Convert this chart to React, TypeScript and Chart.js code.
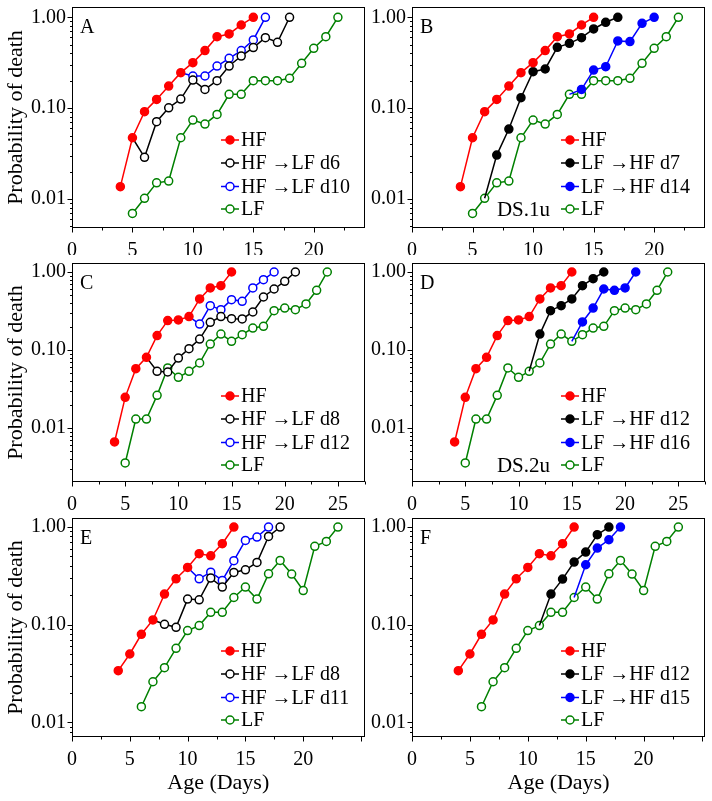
import React, { useEffect, useRef } from 'react';
import { Chart, registerables } from 'chart.js';

Chart.register(...registerables);

const SERIF = "'Liberation Serif', 'Times New Roman', Times, serif";
const RED = '#ff0000';
const BLACK = '#000000';
const BLUE = '#0000ff';
const GREEN = '#008000';

// ---- tick labels ----
const xTicksAB = [0, 5, 10, 15, 20];
const xTicksCD = [0, 5, 10, 15, 20, 25];
const xTicksEF = [0, 5, 10, 15, 20];
const yTicks = [0.01, 0.1, 1];

// ---- Panels A & B (DS.1u) ----
const hfStartAB = 4;
const hfAB = [0.0137, 0.0473, 0.0915, 0.125, 0.175, 0.246, 0.317, 0.43, 0.612, 0.656, 0.823, 1.0];
const lfStartAB = 5;
const lfAB = [0.00695, 0.0102, 0.0151, 0.0158, 0.0473, 0.0741, 0.0669, 0.0855, 0.142, 0.142, 0.201, 0.201, 0.201, 0.213, 0.312, 0.456, 0.612, 1.0];
const aD6Start = 5;
const aD6 = [0.0473, 0.0288, 0.0711, 0.101, 0.126, 0.204, 0.161, 0.201, 0.291, 0.375, 0.464, 0.597, 0.531, 1.0];
const aD10Start = 9;
const aD10 = [0.246, 0.226, 0.226, 0.291, 0.354, 0.43, 0.563, 1.0];
const bD7Start = 6;
const bD7 = [0.0102, 0.0305, 0.059, 0.1305, 0.252, 0.27, 0.468, 0.517, 0.597, 0.744, 0.881, 1.0];
const bD14Start = 13;
const bD14 = [0.142, 0.161, 0.263, 0.286, 0.549, 0.54, 0.859, 1.0];

// ---- Panels C & D (DS.2u) ----
const hfStartCD = 4;
const hfCD = [0.00662, 0.0247, 0.0576, 0.0805, 0.153, 0.238, 0.243, 0.268, 0.451, 0.624, 0.668, 1.0];
const lfStartCD = 5;
const lfCD = [0.00356, 0.013, 0.013, 0.0262, 0.0588, 0.0446, 0.0533, 0.0681, 0.119, 0.16, 0.129, 0.157, 0.191, 0.201, 0.319, 0.345, 0.329, 0.389, 0.582, 1.0];
const cD8Start = 7;
const cD8 = [0.0805, 0.0533, 0.0522, 0.0789, 0.104, 0.138, 0.226, 0.268, 0.252, 0.25, 0.307, 0.478, 0.605, 0.759, 1.0];
const cD12Start = 11;
const cD12 = [0.268, 0.215, 0.37, 0.329, 0.442, 0.421, 0.624, 0.797, 1.0];
const dD12Start = 11;
const dD12 = [0.0533, 0.16, 0.319, 0.37, 0.451, 0.668, 0.821, 1.0];
const dD16Start = 15;
const dD16 = [0.129, 0.229, 0.345, 0.605, 0.582, 0.624, 1.0];

// ---- Panels E & F ----
const hfStartEF = 4;
const hfEF = [0.0339, 0.0502, 0.0799, 0.112, 0.206, 0.295, 0.386, 0.533, 0.508, 0.675, 1.0];
const lfStartEF = 6;
const lfEF = [0.0145, 0.0261, 0.0364, 0.0574, 0.0871, 0.098, 0.134, 0.134, 0.19, 0.243, 0.183, 0.332, 0.455, 0.33, 0.224, 0.634, 0.713, 1.0];
const eD8Start = 7;
const eD8 = [0.112, 0.101, 0.0942, 0.183, 0.18, 0.3, 0.243, 0.343, 0.365, 0.434, 0.802, 1.0];
const eD11Start = 10;
const eD11 = [0.386, 0.295, 0.345, 0.284, 0.452, 0.73, 0.79, 1.0];
const fD12Start = 11;
const fD12 = [0.098, 0.206, 0.293, 0.438, 0.554, 0.834, 1.0];
const fD15Start = 14;
const fD15 = [0.19, 0.411, 0.609, 0.741, 1.0];

type Series = { label: string; start: number; values: number[]; color: string; filled: boolean; hideFirst?: boolean };
type Panel = { letter: string; col: number; row: number; xMax: number; xTicks: number[]; note: string; series: Series[] };

const ARROW = '\u2192';

const panels: Panel[] = [
  {
    letter: 'A', col: 0, row: 0, xMax: 24.2, xTicks: xTicksAB, note: '',
    series: [
      { label: 'HF', start: hfStartAB, values: hfAB, color: RED, filled: true },
      { label: `HF ${ARROW}LF d6`, start: aD6Start, values: aD6, color: BLACK, filled: false, hideFirst: true },
      { label: `HF ${ARROW}LF d10`, start: aD10Start, values: aD10, color: BLUE, filled: false, hideFirst: true },
      { label: 'LF', start: lfStartAB, values: lfAB, color: GREEN, filled: false },
    ],
  },
  {
    letter: 'B', col: 1, row: 0, xMax: 24.2, xTicks: xTicksAB, note: 'DS.1u',
    series: [
      { label: 'HF', start: hfStartAB, values: hfAB, color: RED, filled: true },
      { label: `LF ${ARROW}HF d7`, start: bD7Start, values: bD7, color: BLACK, filled: true, hideFirst: true },
      { label: `LF ${ARROW}HF d14`, start: bD14Start, values: bD14, color: BLUE, filled: true, hideFirst: true },
      { label: 'LF', start: lfStartAB, values: lfAB, color: GREEN, filled: false },
    ],
  },
  {
    letter: 'C', col: 0, row: 1, xMax: 27.5, xTicks: xTicksCD, note: '',
    series: [
      { label: 'HF', start: hfStartCD, values: hfCD, color: RED, filled: true },
      { label: `HF ${ARROW}LF d8`, start: cD8Start, values: cD8, color: BLACK, filled: false, hideFirst: true },
      { label: `HF ${ARROW}LF d12`, start: cD12Start, values: cD12, color: BLUE, filled: false, hideFirst: true },
      { label: 'LF', start: lfStartCD, values: lfCD, color: GREEN, filled: false },
    ],
  },
  {
    letter: 'D', col: 1, row: 1, xMax: 27.5, xTicks: xTicksCD, note: 'DS.2u',
    series: [
      { label: 'HF', start: hfStartCD, values: hfCD, color: RED, filled: true },
      { label: `LF ${ARROW}HF d12`, start: dD12Start, values: dD12, color: BLACK, filled: true, hideFirst: true },
      { label: `LF ${ARROW}HF d16`, start: dD16Start, values: dD16, color: BLUE, filled: true, hideFirst: true },
      { label: 'LF', start: lfStartCD, values: lfCD, color: GREEN, filled: false },
    ],
  },
  {
    letter: 'E', col: 0, row: 2, xMax: 25.3, xTicks: xTicksEF, note: '',
    series: [
      { label: 'HF', start: hfStartEF, values: hfEF, color: RED, filled: true },
      { label: `HF ${ARROW}LF d8`, start: eD8Start, values: eD8, color: BLACK, filled: false, hideFirst: true },
      { label: `HF ${ARROW}LF d11`, start: eD11Start, values: eD11, color: BLUE, filled: false, hideFirst: true },
      { label: 'LF', start: lfStartEF, values: lfEF, color: GREEN, filled: false },
    ],
  },
  {
    letter: 'F', col: 1, row: 2, xMax: 25.3, xTicks: xTicksEF, note: '',
    series: [
      { label: 'HF', start: hfStartEF, values: hfEF, color: RED, filled: true },
      { label: `LF ${ARROW}HF d12`, start: fD12Start, values: fD12, color: BLACK, filled: true, hideFirst: true },
      { label: `LF ${ARROW}HF d15`, start: fD15Start, values: fD15, color: BLUE, filled: true, hideFirst: true },
      { label: 'LF', start: lfStartEF, values: lfEF, color: GREEN, filled: false },
    ],
  },
];

const COLS = [
  { left: 0, width: 370, yWidth: 72, padRight: 5, yTitle: true },
  { left: 370, width: 342, yWidth: 42, padRight: 7, yTitle: false },
];
const ROWS = [
  { top: 0, height: 255, padTop: 7, xHeight: 27, xTitle: false, yMin: 0.00481, yMax: 1.298 },
  { top: 255, height: 255, padTop: 8, xHeight: 28, xTitle: false, yMin: 0.00203, yMax: 1.304 },
  { top: 510, height: 291, padTop: 8, xHeight: 64, xTitle: true, yMin: 0.0071, yMax: 1.237 },
];

const LEGEND_ROWS = [133, 156, 179.5, 202];

function makeDeco(panel: Panel) {
  return {
    id: 'deco' + panel.letter,
    afterDraw(chart: any) {
      const { ctx, chartArea: a, scales } = chart;
      const xs = scales.x;
      const ys = scales.y;
      ctx.save();
      ctx.strokeStyle = '#000';
      ctx.lineWidth = 1;
      const L = Math.round(a.left) + 0.5;
      const T = Math.round(a.top) + 0.5;
      const R = Math.round(a.right) - 0.5;
      const B = Math.round(a.bottom) - 0.5;
      ctx.strokeRect(L, T, R - L, B - T);
      ctx.beginPath();
      for (let e = -3; e <= 0; e++) {
        for (let k = 1; k <= 9; k++) {
          const v = k * Math.pow(10, e);
          if (v < ys.min || v > ys.max) continue;
          const py = Math.round(ys.getPixelForValue(v)) + 0.5;
          const len = k === 1 ? 5 : 2.5;
          ctx.moveTo(L, py);
          ctx.lineTo(L - len, py);
        }
      }
      for (let v = 0; v <= xs.max + 1e-6; v += 2.5) {
        const px = Math.round(xs.getPixelForValue(v)) + 0.5;
        const len = v % 5 === 0 ? 5 : 3;
        ctx.moveTo(px, B);
        ctx.lineTo(px, B + len);
      }
      ctx.stroke();

      // panel letter
      ctx.fillStyle = '#000';
      ctx.font = `20px ${SERIF}`;
      ctx.textAlign = 'left';
      ctx.textBaseline = 'alphabetic';
      ctx.fillText(panel.letter, a.left + 8, a.top + 26);

      // legend
      const mx = a.left + 158;
      panel.series.forEach((s, i) => {
        const yy = a.top + LEGEND_ROWS[i];
        ctx.strokeStyle = s.color;
        ctx.lineWidth = 1.5;
        ctx.beginPath();
        ctx.moveTo(mx - 9, yy);
        ctx.lineTo(mx + 9, yy);
        ctx.stroke();
        ctx.beginPath();
        ctx.arc(mx, yy, 4, 0, Math.PI * 2);
        ctx.fillStyle = s.filled ? s.color : '#ffffff';
        ctx.fill();
        ctx.stroke();
        ctx.fillStyle = '#000';
        ctx.font = `20px ${SERIF}`;
        ctx.textAlign = 'left';
        ctx.textBaseline = 'middle';
        ctx.fillText(s.label, mx + 11, yy + 1);
      });
      if (panel.note) {
        ctx.font = `21px ${SERIF}`;
        ctx.textAlign = 'right';
        ctx.textBaseline = 'middle';
        ctx.fillStyle = '#000';
        ctx.fillText(panel.note, a.left + 138, a.top + LEGEND_ROWS[3] + 1);
      }
      ctx.restore();
    },
  };
}

function PanelChart({ panel }: { panel: Panel }) {
  const ref = useRef<HTMLCanvasElement>(null);
  const col = COLS[panel.col];
  const row = ROWS[panel.row];
  useEffect(() => {
    const canvas = ref.current;
    if (!canvas) return;
    const datasets = panel.series.map((s) => ({
      label: s.label,
      data: s.values.map((v, i) => ({ x: s.start + i, y: v })),
      borderColor: s.color,
      backgroundColor: s.filled ? s.color : '#ffffff',
      pointBackgroundColor: s.filled ? s.color : '#ffffff',
      pointBorderColor: s.color,
      pointBorderWidth: 1.5,
      pointRadius: s.values.map((_, i) => (s.hideFirst && i === 0 ? 0 : 4)),
      pointHoverRadius: 4,
      borderWidth: 1.5,
      showLine: true,
      fill: false,
      tension: 0,
    }));
    const chart = new Chart(canvas, {
      type: 'scatter',
      data: { datasets },
      options: {
        responsive: false,
        animation: false,
        devicePixelRatio: 1,
        events: [],
        layout: { padding: { top: row.padTop, right: col.padRight, left: 0, bottom: 0 } },
        plugins: { legend: { display: false }, tooltip: { enabled: false } },
        scales: {
          x: {
            type: 'linear',
            min: 0,
            max: panel.xMax,
            grid: { display: false, drawTicks: false },
            border: { display: false },
            ticks: { font: { family: SERIF, size: 20 }, color: '#000', padding: 11, maxRotation: 0, autoSkip: false },
            afterBuildTicks: (s: any) => {
              s.ticks = panel.xTicks.map((v) => ({ value: v }));
            },
            afterFit: (s: any) => {
              s.height = row.xHeight;
              s.paddingLeft = 0;
              s.paddingRight = 0;
              s.paddingTop = 0;
              s.paddingBottom = 0;
            },
            title: {
              display: row.xTitle,
              text: 'Age (Days)',
              font: { family: SERIF, size: 22 },
              color: '#000',
              padding: { top: 0, bottom: 5 },
            },
          },
          y: {
            type: 'logarithmic',
            min: row.yMin,
            max: row.yMax,
            grid: { display: false, drawTicks: false },
            border: { display: false },
            ticks: {
              font: { family: SERIF, size: 20 },
              color: '#000',
              padding: 6,
              autoSkip: false,
              callback: (v: any) => Number(v).toFixed(2),
            },
            afterBuildTicks: (s: any) => {
              s.ticks = yTicks.map((v) => ({ value: v }));
            },
            afterFit: (s: any) => {
              s.width = col.yWidth;
              s.paddingLeft = 0;
              s.paddingRight = 0;
              s.paddingTop = 0;
              s.paddingBottom = 0;
            },
            title: {
              display: col.yTitle,
              text: 'Probability of death',
              font: { family: SERIF, size: 22 },
              color: '#000',
              padding: { top: 3.5, bottom: 0 },
            },
          },
        },
      } as any,
      plugins: [makeDeco(panel)],
    });
    return () => chart.destroy();
  }, []);
  return (
    <canvas
      ref={ref}
      width={col.width}
      height={row.height}
      style={{ position: 'absolute', left: col.left, top: row.top, width: col.width, height: row.height }}
    />
  );
}

export default function App() {
  return (
    <div style={{ position: 'absolute', left: 0, top: 0, width: 712, height: 801, background: '#ffffff' }}>
      {panels.map((p) => (
        <PanelChart key={p.letter} panel={p} />
      ))}
    </div>
  );
}
